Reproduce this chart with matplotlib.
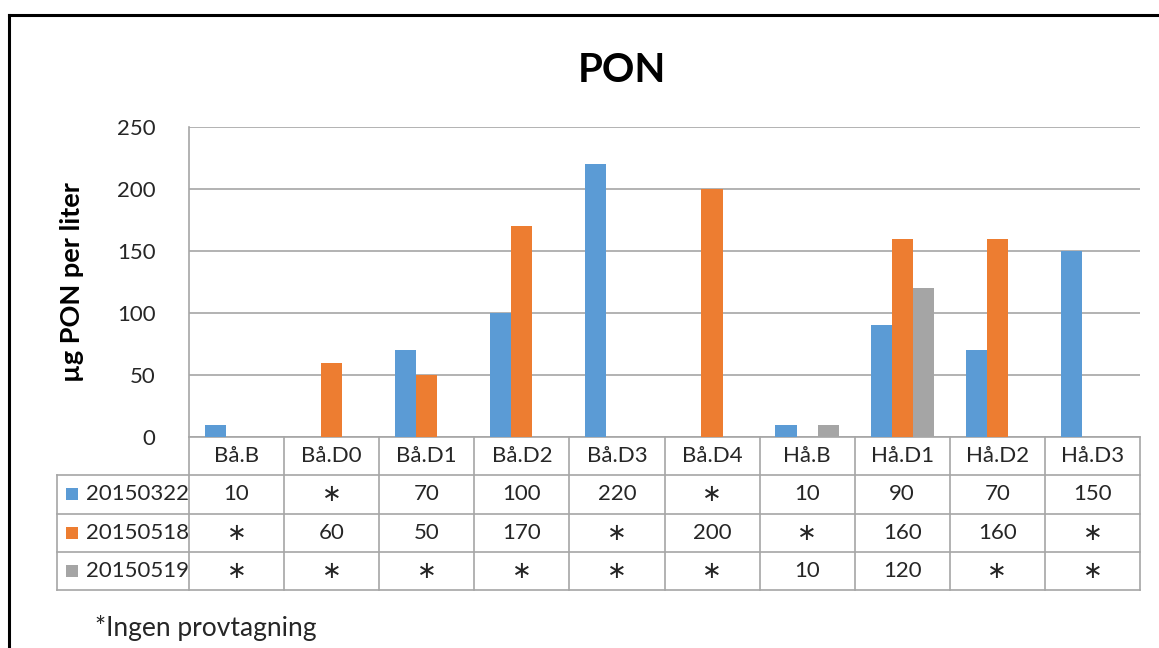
import numpy as np
import matplotlib
matplotlib.use("Agg")
import matplotlib.pyplot as plt
from matplotlib.lines import Line2D
from matplotlib.patches import Rectangle
from matplotlib.transforms import blended_transform_factory

plt.rcParams["font.family"] = ["Lato", "DejaVu Sans"]

STATIONS = ["Bå.B", "Bå.D0", "Bå.D1", "Bå.D2", "Bå.D3", "Bå.D4",
            "Hå.B", "Hå.D1", "Hå.D2", "Hå.D3"]
SERIES = ["20150322", "20150518", "20150519"]
# None = no sample taken (shown as * in the table)
PON_0322 = [10, None, 70, 100, 220, None, 10, 90, 70, 150]
PON_0518 = [None, 60, 50, 170, None, 200, None, 160, 160, None]
PON_0519 = [None, None, None, None, None, None, 10, 120, None, None]
COLORS = ["#5B9BD5", "#ED7D31", "#A5A5A5"]

W, H = 1159, 648
fig = plt.figure(figsize=(W / 100, H / 100), dpi=100)
ax = fig.add_axes([189 / W, 1 - 437 / H, (1140 - 189) / W, (437 - 127) / H])

grid_col = "#A6A6A6"
txt_col = "#262626"
x = np.arange(len(STATIONS))
width = 1 / 4.5
for i, (vals, color) in enumerate(zip([PON_0322, PON_0518, PON_0519], COLORS)):
    v = np.array([np.nan if a is None else a for a in vals], dtype=float)
    ax.bar(x + (i - 1) * width, v, width, color=color, zorder=3)

ax.set_xlim(-0.5, len(STATIONS) - 0.5)
ax.set_ylim(0, 250)
ax.set_yticks(range(0, 251, 50))
ax.tick_params(axis="y", length=0, pad=24, labelsize=16, labelcolor=txt_col)
ax.set_xticks([])
ax.grid(axis="y", color=grid_col, linewidth=1.2, zorder=0)
for s in ["top", "right", "bottom"]:
    ax.spines[s].set_visible(False)
ax.spines["left"].set_color(grid_col)
ax.spines["left"].set_linewidth(1.2)

ax.set_ylabel("µg PON per liter", fontsize=19.5, fontweight="bold", labelpad=24)
fig.text(622 / W, 1 - 70 / H, "PON", fontsize=29, fontweight="bold",
         ha="center", va="center")

# data table below the plot area
tr = blended_transform_factory(ax.transData, ax.transAxes)
rh = 38.3 / 310
left = -0.5 - 132 / 95.1
n = len(STATIONS)
lkw = dict(color=grid_col, linewidth=1.2, transform=tr, clip_on=False)
ax.add_line(Line2D([-0.5, n - 0.5], [0, 0], **lkw))
for k in range(1, 4 + 1):
    ax.add_line(Line2D([left, n - 0.5], [-k * rh, -k * rh], **lkw))
for j in range(n + 1):
    ax.add_line(Line2D([j - 0.5, j - 0.5], [0, -4 * rh], **lkw))
ax.add_line(Line2D([left, left], [-rh, -4 * rh], **lkw))

tkw = dict(transform=tr, ha="center", va="center", fontsize=16,
           color=txt_col, clip_on=False)
for j, name in enumerate(STATIONS):
    ax.text(j, -0.5 * rh, name, **tkw)
for r, (label, vals, color) in enumerate(zip(SERIES, [PON_0322, PON_0518, PON_0519], COLORS)):
    yc = -(r + 1.5) * rh
    for j, v in enumerate(vals):
        if v is None:
            ax.text(j, yc, "\u2217", **{**tkw, "family": "DejaVu Sans",
                                        "fontsize": 17})
        else:
            ax.text(j, yc, str(v), **tkw)
    sq = 12 / 95.1
    ax.add_patch(Rectangle((left + 9 / 95.1, yc - 6 / 310), sq, 12 / 310,
                           facecolor=color, edgecolor="none", transform=tr,
                           clip_on=False))
    ax.text(left + 29 / 95.1, yc, label, transform=tr, ha="left", va="center",
            fontsize=16, color=txt_col, clip_on=False)

fig.text(95 / W, 1 - 628 / H, "*Ingen provtagning", fontsize=19,
         ha="left", va="center", color=txt_col)

# outer frame (top and left edges)
fig.add_artist(Line2D([9 / W, 1], [1 - 15 / H, 1 - 15 / H], color="black",
                      linewidth=2.2, transform=fig.transFigure))
fig.add_artist(Line2D([9 / W, 9 / W], [0, 1 - 15 / H], color="black",
                      linewidth=2.2, transform=fig.transFigure))

fig.savefig("out.png", dpi=100)
